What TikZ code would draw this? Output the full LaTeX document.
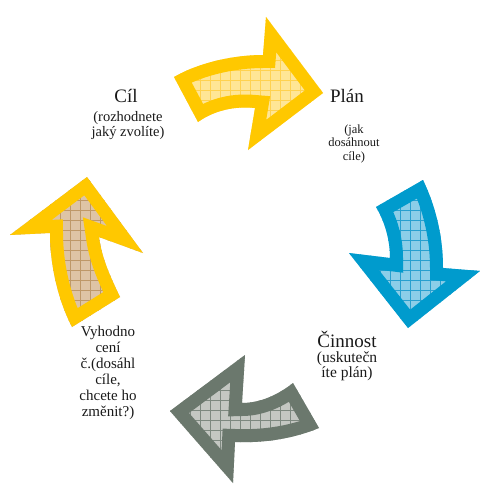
\documentclass[tikz,border=0pt]{standalone}
\usepackage{fontspec}
\setmainfont{Liberation Serif}
\definecolor{ybord}{RGB}{255,200,0}
\definecolor{yfill}{RGB}{255,230,150}
\definecolor{ygrid}{RGB}{255,210,80}
\definecolor{bbord}{RGB}{0,155,205}
\definecolor{bfill}{RGB}{140,206,232}
\definecolor{bgrid}{RGB}{40,160,207}
\definecolor{gbord}{RGB}{107,120,109}
\definecolor{gfill}{RGB}{196,199,194}
\definecolor{ggrid}{RGB}{125,136,127}
\definecolor{tfill}{RGB}{222,196,165}
\definecolor{tgrid}{RGB}{190,152,104}
\definecolor{txt}{RGB}{25,25,25}
\newcommand\cyclearrow[4]{%
  \begin{scope}
    \clip #1;
    \fill[#3] (0,0) rectangle (481,487);
    \draw[#4, line width=0.6pt, step=10pt] (0,0) grid (490,500);
    \draw[#2, line width=26pt, line join=miter, miter limit=30] #1;
  \end{scope}}
\newcommand\lines[3]{{\fontsize{#1}{#2}\selectfont\begin{tabular}[t]{@{}c@{}}#3\end{tabular}}}
\tikzset{
  lbl/.style={anchor=base, inner sep=0pt, text=txt}
}
\begin{document}
\begin{tikzpicture}[x=1pt,y=-1pt]
\useasboundingbox (0,0) rectangle (481,487);
% top arrow
\cyclearrow{(174,77) .. controls (200,62) and (235,55) .. (263,55) -- (266,17) -- (323,93) -- (248,150) -- (255,108) .. controls (235,106) and (215,110) .. (198,122) -- cycle}{ybord}{yfill}{ygrid}
% right arrow
\cyclearrow{(376,207) -- (423,180) .. controls (435,205) and (443,235) .. (443,268) -- (480,271) -- (408,328) -- (349,253) -- (390,258) .. controls (390,240) and (385,222) .. (376,207) -- cycle}{bbord}{bfill}{bgrid}
% bottom arrow
\cyclearrow{(293,383) -- (319,428) .. controls (290,440) and (260,443) .. (235,442) -- (233,483) -- (170,411) -- (245,355) -- (242,403) .. controls (260,403) and (278,395) .. (293,383) -- cycle}{gbord}{gfill}{ggrid}
% left arrow
\cyclearrow{(87,177) -- (143,253) -- (99,237) .. controls (102,260) and (112,280) .. (120,297) -- (72,327) .. controls (58,300) and (50,265) .. (50,233) -- (10,235) -- cycle}{ybord}{tfill}{tgrid}
% texts
\node[lbl, font=\fontsize{19}{22}\selectfont] (cil) at (126,102.5) {Cíl};
\node[lbl] (cilsub) at (128,121) {\lines{14.5}{15.5}{(rozhodnete\\jaký zvolíte)}};
\node[lbl, font=\fontsize{19}{22}\selectfont] (plan) at (347,102) {Plán};
\node[lbl] (plansub) at (354,133) {\lines{12.5}{13.5}{(jak\\dosáhnout\\cíle)}};
\node[lbl, font=\fontsize{19}{22}\selectfont] (cinnost) at (347,347) {Činnost};
\node[lbl] (cinsub) at (347,362.5) {\lines{15.5}{14.5}{(uskutečn\\íte plán)}};
\node[lbl] (vyh) at (108,336.5) {\lines{15}{16}{Vyhodno\\cení\\č.(dosáhl\\cíle,\\chcete ho\\změnit?)}};
\end{tikzpicture}
\end{document}
